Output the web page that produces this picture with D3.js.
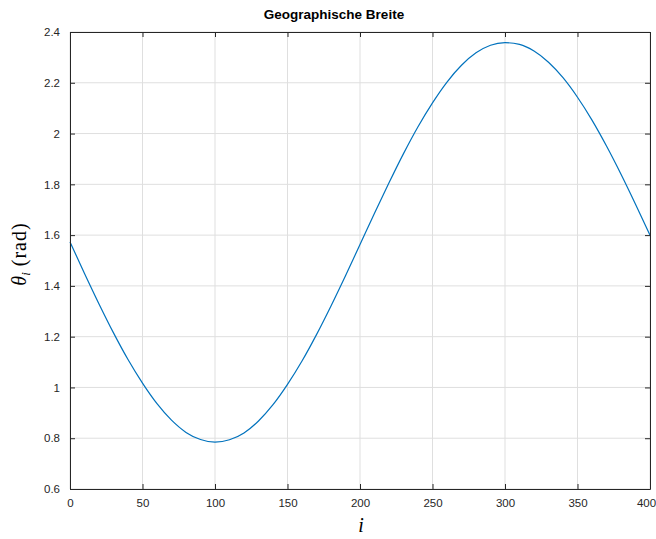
<!DOCTYPE html>
<html>
<head>
<meta charset="utf-8">
<script src="https://cdn.jsdelivr.net/npm/d3@7"></script>
<style>
  body { margin: 0; background: #fff; }
  .tick text { font-family: "Liberation Sans", Arial, sans-serif; font-size: 11.5px; fill: #262626; }
</style>
</head>
<body>
<script>
// sample index i and latitude theta_i (rad)
var steps = [0, 10, 20, 30, 40, 50, 60, 70, 80, 90, 100, 110, 120, 130, 140, 150, 160, 170, 180, 190,
             200, 210, 220, 230, 240, 250, 260, 270, 280, 290, 300, 310, 320, 330, 340, 350, 360, 370, 380, 390, 400];
var theta = [1.573, 1.449, 1.329, 1.215, 1.110, 1.017, 0.936, 0.871, 0.823, 0.795, 0.785, 0.794, 0.821, 0.868, 0.932,
             1.012, 1.104, 1.208, 1.321, 1.440, 1.563, 1.686, 1.806, 1.921, 2.027, 2.121, 2.203, 2.269, 2.318, 2.348,
             2.358, 2.351, 2.325, 2.281, 2.220, 2.143, 2.053, 1.951, 1.840, 1.722, 1.600];
var xTicks = [0, 50, 100, 150, 200, 250, 300, 350, 400];
var yTicks = [0.6, 0.8, 1, 1.2, 1.4, 1.6, 1.8, 2, 2.2, 2.4];

var margin = { top: 32, right: 6, bottom: 50, left: 70 };
var width = 656 - margin.left - margin.right;
var height = 539 - margin.top - margin.bottom;

var svg = d3.select("body")
    .append("svg")
    .attr("width", 656)
    .attr("height", 539);

var g = svg.append("g")
    .attr("transform", "translate(" + margin.left + "," + margin.top + ")");

var x = d3.scaleLinear().domain([0, 400]).range([0, width]);
var y = d3.scaleLinear().domain([0.6, 2.4]).range([height, 0]);

// grid
g.append("g")
    .selectAll("line")
    .data(xTicks)
    .enter()
    .append("line")
    .attr("x1", function(d) { return x(d); })
    .attr("x2", function(d) { return x(d); })
    .attr("y1", 0)
    .attr("y2", height)
    .attr("stroke", "#dfdfdf")
    .attr("stroke-width", 1);

g.append("g")
    .selectAll("line")
    .data(yTicks)
    .enter()
    .append("line")
    .attr("x1", 0)
    .attr("x2", width)
    .attr("y1", function(d) { return y(d); })
    .attr("y2", function(d) { return y(d); })
    .attr("stroke", "#dfdfdf")
    .attr("stroke-width", 1);

// curve
var line = d3.line()
    .x(function(d, i) { return x(steps[i]); })
    .y(function(d) { return y(d); })
    .curve(d3.curveMonotoneX);

g.append("path")
    .datum(theta)
    .attr("fill", "none")
    .attr("stroke", "#0072BD")
    .attr("stroke-width", 1.2)
    .attr("d", line);

// axes, ticks inside like matlab
var fmt = function(d) { return String(d); };

var xAxis = g.append("g")
    .attr("transform", "translate(0," + height + ")")
    .call(d3.axisBottom(x).tickValues(xTicks).tickFormat(fmt).tickSizeInner(-5).tickSizeOuter(0).tickPadding(10));
// last label sits on the window edge
xAxis.selectAll(".tick text").filter(function(d) { return d === 400; }).attr("dx", -4);

g.append("g")
    .call(d3.axisLeft(y).tickValues(yTicks).tickFormat(fmt).tickSizeInner(-5).tickSizeOuter(0).tickPadding(10));

g.append("g")
    .call(d3.axisTop(x).tickValues(xTicks).tickFormat("").tickSizeInner(-5).tickSizeOuter(0));

g.append("g")
    .attr("transform", "translate(" + width + ",0)")
    .call(d3.axisRight(y).tickValues(yTicks).tickFormat("").tickSizeInner(-5).tickSizeOuter(0));

g.selectAll(".domain").attr("stroke", "#262626");
g.selectAll(".tick line").attr("stroke", "#262626");

// title
svg.append("text")
    .attr("x", 334)
    .attr("y", 19)
    .attr("text-anchor", "middle")
    .attr("font-family", "Liberation Sans, Arial, sans-serif")
    .attr("font-size", "13.5px")
    .attr("font-weight", "bold")
    .attr("fill", "#000")
    .text("Geographische Breite");

// x label
svg.append("text")
    .attr("x", 361)
    .attr("y", 532)
    .attr("text-anchor", "middle")
    .attr("font-family", "Liberation Serif, serif")
    .attr("font-style", "italic")
    .attr("font-size", "20px")
    .attr("fill", "#000")
    .text("i");

// y label
var yl = svg.append("text")
    .attr("transform", "translate(26,254) rotate(-90)")
    .attr("text-anchor", "middle")
    .attr("font-family", "Liberation Serif, serif")
    .attr("font-size", "20px")
    .attr("fill", "#000");
yl.append("tspan").attr("font-style", "italic").text("θ");
yl.append("tspan").attr("font-style", "italic").attr("font-size", "13px").attr("dy", 4).text("i");
yl.append("tspan").attr("dy", -4).attr("dx", 6).attr("letter-spacing", "1px").text("(rad)");
</script>
</body>
</html>
